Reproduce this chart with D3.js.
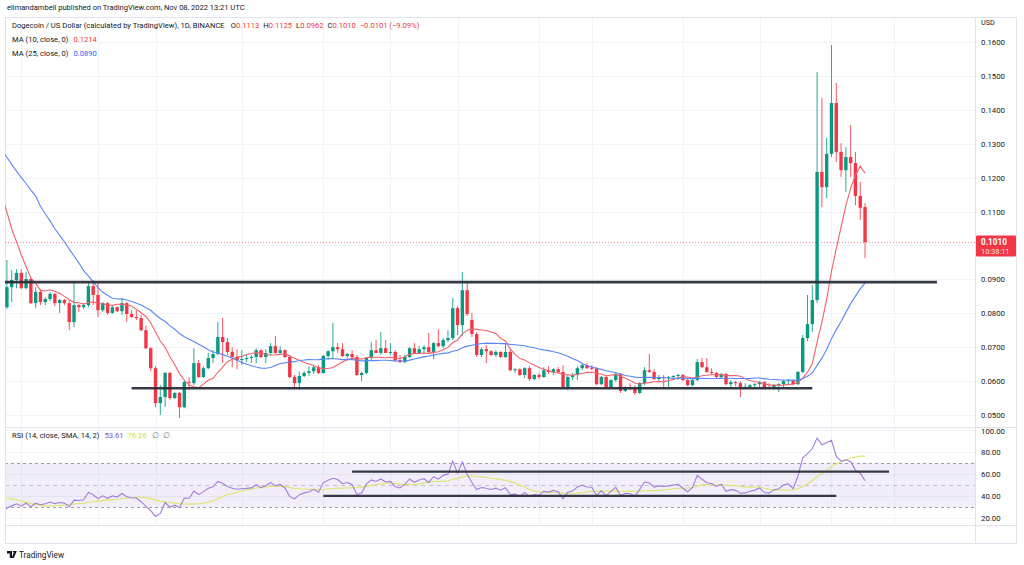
<!DOCTYPE html>
<html><head><meta charset="utf-8">
<script src="https://cdn.jsdelivr.net/npm/d3@7/dist/d3.min.js"></script>
<style>
html,body{margin:0;padding:0;background:#fff;overflow:hidden}
svg{display:block;font-family:Roboto,"Open Sans",Arial,sans-serif}
</style></head><body>
<svg id="chart" width="1024" height="565"></svg>
<script>
// ---------------- DATA ----------------
const firstDay = "2022-05-13", lastDay = "2022-11-08", priorStart = "2022-04-01";
// closes before the visible range (Apr 1 - May 12), feed the MA / RSI
const priorCloses = [.1430,.1420,.1450,.1480,.1520,.1430,.1450,.1420,.1440,.1410,.1320,.1350,.1410,.1390,.1420,.1410,.1370,.1400,.1430,.1410,.1360,.1330,.1320,.1300,.1580,.1400,.1380,.1410,.1330,.1300,
  .1320,.1330,.1320,.1400,.1290,.1270,.1240,.1170,.1020,.1040,.0860,.0820];
const open = [
  .0818,.0877,.0898,.0919,.0874,.0901,.0830,.0863,.0833,.0842,.0857,.0830,.0839,.0830,.0774,.0824,.0818,.0824,.0880,
  .0854,.0809,.0830,.0801,.0818,.0806,.0830,.0798,.0789,.0786,.0750,.0697,.0638,.0535,.0553,.0624,.0550,.0565,.0523,.0597,.0594,.0653,.0612,.0638,.0668,.0680,.0730,.0715,.0686,.0671,
  .0662,.0665,.0668,.0671,.0691,.0671,.0683,.0703,.0683,.0691,.0671,.0612,.0594,.0615,.0624,.0629,.0641,.0624,.0674,.0688,.0700,.0694,.0674,.0680,.0671,.0618,.0624,.0668,.0691,.0683,.0697,
  .0683,.0686,.0662,.0656,.0671,.0697,.0683,.0694,.0700,.0686,.0712,.0703,.0721,.0727,.0815,.0765,.0868,.0780,.0739,.0677,.0694,.0688,.0677,.0686,.0671,.0686,.0632,.0635,.0618,.0638,.0606,
  .0618,.0612,.0632,.0627,.0635,.0627,.0582,.0612,.0618,.0638,.0647,.0638,.0637,.0591,.0612,.0582,.0603,.0621,.0571,.0582,.0579,.0565,.0594,.0632,.0627,.0606,.0612,.0609,.0612,.0615,
  .0618,.0603,.0588,.0603,.0656,.0641,.0627,.0624,.0612,.0621,.0591,.0597,.0594,.0582,.0583,.0588,.0591,.0597,.0582,.0580,.0588,.0591,.0600,.0603,.0591,.0627,.0727,.0768,.0839,.1217,.1172,
  .1270,.1420,.1276,.1222,.1261,.1243,.1146,.1113];
const high = [
  .0957,.0927,.0930,.0930,.0922,.0904,.0877,.0871,.0848,.0863,.0860,.0842,.0842,.0839,.0889,.0827,.0830,.0889,.0898,
  .0889,.0833,.0833,.0821,.0821,.0845,.0833,.0809,.0809,.0795,.0762,.0700,.0644,.0588,.0627,.0627,.0568,.0568,.0603,.0612,.0697,.0662,.0644,.0683,.0691,.0774,.0786,.0727,.0700,.0694,
  .0691,.0677,.0677,.0697,.0694,.0694,.0712,.0733,.0703,.0694,.0674,.0618,.0627,.0629,.0644,.0647,.0647,.0677,.0691,.0771,.0712,.0712,.0683,.0691,.0677,.0627,.0671,.0715,.0721,.0745,.0721,
  .0712,.0691,.0677,.0677,.0700,.0712,.0703,.0706,.0742,.0715,.0753,.0727,.0750,.0845,.0821,.0922,.0889,.0801,.0745,.0700,.0706,.0691,.0691,.0688,.0712,.0694,.0638,.0638,.0641,.0644,.0621,
  .0624,.0641,.0644,.0638,.0641,.0647,.0618,.0624,.0644,.0653,.0653,.0647,.0641,.0615,.0615,.0606,.0627,.0624,.0585,.0594,.0588,.0597,.0641,.0680,.0635,.0618,.0618,.0615,.0618,.0621,
  .0621,.0609,.0606,.0665,.0668,.0668,.0638,.0627,.0624,.0624,.0603,.0600,.0600,.0594,.0591,.0594,.0600,.0600,.0594,.0591,.0594,.0603,.0606,.0606,.0629,.0736,.0854,.0883,.1511,.1435,.1317,
  .1591,.1479,.1302,.1290,.1355,.1276,.1187,.1125];
const low = [
  .0812,.0833,.0874,.0871,.0871,.0827,.0815,.0824,.0824,.0836,.0821,.0801,.0824,.0750,.0759,.0804,.0812,.0818,.0824,
  .0789,.0804,.0795,.0798,.0804,.0795,.0774,.0786,.0780,.0747,.0694,.0629,.0523,.0500,.0523,.0544,.0547,.0491,.0520,.0573,.0588,.0609,.0609,.0635,.0653,.0677,.0653,.0677,.0641,.0635,
  .0647,.0656,.0653,.0653,.0668,.0653,.0677,.0680,.0680,.0668,.0609,.0579,.0576,.0612,.0615,.0621,.0621,.0621,.0662,.0668,.0683,.0671,.0665,.0662,.0615,.0600,.0621,.0662,.0683,.0677,.0683,
  .0677,.0656,.0653,.0653,.0668,.0680,.0680,.0680,.0683,.0665,.0700,.0697,.0715,.0721,.0736,.0733,.0792,.0730,.0671,.0671,.0653,.0674,.0671,.0668,.0668,.0629,.0624,.0615,.0609,.0600,.0603,
  .0606,.0609,.0621,.0618,.0621,.0579,.0573,.0603,.0603,.0632,.0635,.0632,.0588,.0588,.0579,.0579,.0597,.0565,.0568,.0573,.0559,.0562,.0588,.0624,.0603,.0597,.0582,.0582,.0606,.0603,
  .0600,.0585,.0585,.0600,.0638,.0624,.0618,.0609,.0609,.0588,.0579,.0585,.0553,.0579,.0579,.0579,.0582,.0579,.0579,.0576,.0568,.0582,.0591,.0588,.0588,.0624,.0718,.0745,.0830,.1113,.1140,
  .1261,.1246,.1202,.1158,.1202,.1119,.1075,.0962];
const close = [
  .0877,.0898,.0919,.0874,.0901,.0830,.0863,.0833,.0842,.0857,.0830,.0839,.0830,.0774,.0824,.0818,.0824,.0880,.0854,
  .0809,.0830,.0801,.0818,.0806,.0830,.0798,.0789,.0786,.0750,.0697,.0638,.0535,.0553,.0624,.0550,.0565,.0523,.0597,.0594,.0653,.0612,.0638,.0668,.0680,.0730,.0715,.0686,.0671,.0662,
  .0665,.0668,.0671,.0691,.0671,.0683,.0703,.0683,.0691,.0671,.0612,.0594,.0615,.0624,.0629,.0641,.0624,.0674,.0688,.0700,.0694,.0674,.0680,.0671,.0618,.0624,.0668,.0691,.0683,.0697,.0683,
  .0686,.0662,.0656,.0671,.0697,.0683,.0694,.0700,.0686,.0712,.0703,.0721,.0727,.0815,.0765,.0868,.0798,.0739,.0677,.0694,.0688,.0677,.0686,.0671,.0686,.0632,.0635,.0618,.0638,.0606,.0618,
  .0612,.0632,.0627,.0635,.0627,.0582,.0612,.0618,.0638,.0647,.0638,.0637,.0591,.0612,.0582,.0603,.0621,.0571,.0582,.0579,.0565,.0594,.0632,.0627,.0606,.0612,.0609,.0612,.0615,.0618,
  .0603,.0588,.0603,.0656,.0641,.0627,.0624,.0612,.0621,.0591,.0597,.0594,.0582,.0583,.0588,.0591,.0597,.0582,.0580,.0588,.0591,.0600,.0603,.0591,.0627,.0727,.0768,.0839,.1217,.1172,.1270,
  .1420,.1276,.1222,.1261,.1243,.1146,.1111,.1010];

const priceTicks = [0.16,0.15,0.14,0.13,0.12,0.11,0.09,0.08,0.07,0.06,0.05];
const priceGrid = [0.16,0.15,0.14,0.13,0.12,0.11,0.10,0.09,0.08,0.07,0.06,0.05];
const rsiTicks = [100,80,60,40,20];
const rsiBands = [70,50,30];
const timeTicks = ["2022-05-16","2022-06-01","2022-06-13","2022-07-01","2022-07-18","2022-08-01","2022-08-15","2022-09-01","2022-09-12","2022-10-01","2022-10-17","2022-11-01","2022-11-14","2022-12-01"];
const timeTickLabels = ["16","Jun","13","Jul","18","Aug","15","Sep","12","Oct","17","Nov","14","Dec"];
const priceLevels = [{from:"2022-05-01",to:"2022-11-23",value:0.0892},{from:"2022-06-08",to:"2022-10-28",value:0.0579}];
const rsiLevels = [{from:"2022-07-24",to:"2022-11-13",value:62},{from:"2022-07-18",to:"2022-11-02",value:40}];
const headerText = "elimandambell published on TradingView.com, Nov 08, 2022 13:21 UTC";
const symbolText = "Dogecoin / US Dollar (calculated by TradingView), 1D, BINANCE";
const ohlcText = [["O","0.1113"],["H","0.1125"],["L","0.0962"],["C","0.1010"]];
const changeText = "\u22120.0101 (\u22129.09%)";
const maLegend = [{label:"MA (10, close, 0)",value:"0.1214",len:10,color:"#f0616b",textColor:"#F23645"},{label:"MA (25, close, 0)",value:"0.0890",len:25,color:"#5b86f5",textColor:"#2962FF"}];
const rsiLegend = {label:"RSI (14, close, SMA, 14, 2)",rsi:"53.61",ma:"76.26"};
const lastPriceText = "0.1010", countdownText = "10:38:11";

// ---------------- LAYOUT ----------------
const L=5, R=975, TOP=17, PBOT=427, RBOT=525, BOT=543, RIGHT=1016;
const UP="#089981", DOWN="#F23645", TXT="#131722";
const svg=d3.select("#chart");
const parse=d3.utcParse("%Y-%m-%d");
const days=d3.utcDay.range(parse(firstDay), d3.utcDay.offset(parse(lastDay),1));
const allDays=d3.utcDay.range(parse(priorStart), d3.utcDay.offset(parse(lastDay),1));
const allCloses=priorCloses.concat(close);
const x=d3.scaleUtc().domain([parse("2022-06-01"),parse("2022-12-01")]).range([98,975.3]);
const y=d3.scaleLinear().domain([0.05,0.16]).range([415,42]);
const yr=d3.scaleLinear().domain([20,100]).range([518,429.6]);

const defs=svg.append("defs");
defs.append("clipPath").attr("id","cp").append("rect").attr("x",L).attr("y",TOP).attr("width",R-L).attr("height",PBOT-TOP);
defs.append("clipPath").attr("id","cr").append("rect").attr("x",L).attr("y",PBOT).attr("width",R-L).attr("height",RBOT-PBOT);
defs.append("clipPath").attr("id","ct").append("rect").attr("x",L).attr("y",RBOT).attr("width",R-L).attr("height",BOT-RBOT);

// grid
const grid=svg.append("g");
grid.selectAll(".hg").data(priceGrid).join("line").attr("x1",L).attr("x2",R)
  .attr("y1",d=>Math.round(y(d))+.5).attr("y2",d=>Math.round(y(d))+.5).attr("stroke","#f0f3fa");
grid.selectAll(".rg").data(rsiTicks).join("line").attr("x1",L).attr("x2",R)
  .attr("y1",d=>Math.round(yr(d))+.5).attr("y2",d=>Math.round(yr(d))+.5).attr("stroke","#f0f3fa");
grid.selectAll(".vg").data(timeTicks).join("line")
  .attr("x1",d=>Math.round(x(parse(d)))+.5).attr("x2",d=>Math.round(x(parse(d)))+.5)
  .attr("y1",TOP).attr("y2",RBOT).attr("stroke","#f0f3fa");

// RSI band
const rg=svg.append("g").attr("clip-path","url(#cr)");
rg.append("rect").attr("x",L).attr("width",R-L).attr("y",yr(70)).attr("height",yr(30)-yr(70)).attr("fill","rgba(126,87,194,0.1)");
rg.selectAll(".bl").data(rsiBands).join("line").attr("x1",L).attr("x2",R)
  .attr("y1",d=>Math.round(yr(d))+.5).attr("y2",d=>Math.round(yr(d))+.5)
  .attr("stroke","#9598a1").attr("stroke-dasharray",d=>d===50?"4,4":"3,3").attr("stroke-opacity",d=>d===50?0.5:0.9);

// frame & separators
svg.append("rect").attr("x",L+.5).attr("y",TOP+.5).attr("width",RIGHT-L).attr("height",BOT-TOP).attr("fill","none").attr("stroke","#e0e3eb");
svg.append("line").attr("x1",R+.5).attr("x2",R+.5).attr("y1",TOP).attr("y2",BOT).attr("stroke","#e0e3eb");
svg.append("line").attr("x1",L).attr("x2",RIGHT).attr("y1",PBOT+.5).attr("y2",PBOT+.5).attr("stroke","#e0e3eb");
svg.append("line").attr("x1",L).attr("x2",RIGHT).attr("y1",RBOT+.5).attr("y2",RBOT+.5).attr("stroke","#e0e3eb");

// price pane
const pg=svg.append("g").attr("clip-path","url(#cp)");
pg.append("line").attr("x1",L).attr("x2",R).attr("y1",Math.round(y(close[close.length-1]))+.5).attr("y2",Math.round(y(close[close.length-1]))+.5)
  .attr("stroke",DOWN).attr("stroke-opacity",.6).attr("stroke-dasharray","1,2");
const candles=days.map((d,i)=>({d,o:open[i],h:high[i],l:low[i],c:close[i]}));
const cg=pg.append("g");
cg.selectAll(".w").data(candles).join("line")
  .attr("x1",d=>x(d.d)).attr("x2",d=>x(d.d)).attr("y1",d=>y(d.h)).attr("y2",d=>y(d.l))
  .attr("stroke",d=>d.c>=d.o?UP:DOWN).attr("stroke-width",1).attr("stroke-opacity",.85);
cg.selectAll(".b").data(candles).join("rect")
  .attr("x",d=>x(d.d)-1.7).attr("width",3.4)
  .attr("y",d=>y(Math.max(d.o,d.c))).attr("height",d=>Math.max(1,Math.abs(y(d.o)-y(d.c))))
  .attr("fill",d=>d.c>=d.o?UP:DOWN);
function sma(arr,n){return arr.map((v,i)=>{ if(v==null||i<n-1) return null; let s=0; for(let k=i-n+1;k<=i;k++){ if(arr[k]==null) return null; s+=arr[k];} return s/n;});}
const startIdx=allDays.findIndex(d=>+d===+parse("2022-05-11"));
maLegend.forEach(m=>{
  const vals=sma(allCloses,m.len);
  const pts=allDays.map((d,i)=>({d,v:vals[i]})).filter((p,i)=>i>=startIdx&&p.v!=null);
  pg.append("path").datum(pts).attr("fill","none").attr("stroke",m.color).attr("stroke-width",1.1)
    .attr("d",d3.line().x(p=>x(p.d)).y(p=>y(p.v)));
});
pg.selectAll(".lv").data(priceLevels).join("line")
  .attr("x1",d=>x(parse(d.from))).attr("x2",d=>x(parse(d.to))).attr("y1",d=>y(d.value)).attr("y2",d=>y(d.value))
  .attr("stroke","#2a2e39").attr("stroke-width",2.6).attr("stroke-opacity",.95);

// RSI
function rma(src,n){const out=src.map(()=>null); let s=0; for(let i=0;i<src.length;i++){ if(i<n-1){s+=src[i];continue;} if(i===n-1){s+=src[i];out[i]=s/n;} else out[i]=(out[i-1]*(n-1)+src[i])/n;} return out;}
const ups=[],dns=[];
for(let i=1;i<allCloses.length;i++){const ch=allCloses[i]-allCloses[i-1]; ups.push(Math.max(ch,0)); dns.push(Math.max(-ch,0));}
const ru=rma(ups,14), rd=rma(dns,14);
const rsi=[null].concat(ru.map((u,i)=>u==null?null:(rd[i]===0?100:100-100/(1+u/rd[i]))));
const rsiMa=sma(rsi,14);
const rsiPts=allDays.map((d,i)=>({d,v:rsi[i]})).filter((p,i)=>i>=startIdx&&p.v!=null);
const rsiMaPts=allDays.map((d,i)=>({d,v:rsiMa[i]})).filter((p,i)=>i>=startIdx&&p.v!=null);
rg.append("path").datum(rsiMaPts).attr("fill","none").attr("stroke","#dbe66a").attr("stroke-width",1.1)
  .attr("d",d3.line().x(p=>x(p.d)).y(p=>yr(p.v)));
rg.append("path").datum(rsiPts).attr("fill","none").attr("stroke","#a47ddb").attr("stroke-width",1.1)
  .attr("d",d3.line().x(p=>x(p.d)).y(p=>yr(p.v)));
rg.selectAll(".rl").data(rsiLevels).join("line")
  .attr("x1",d=>x(parse(d.from))).attr("x2",d=>x(parse(d.to))).attr("y1",d=>yr(d.value)).attr("y2",d=>yr(d.value))
  .attr("stroke","#2a2e39").attr("stroke-width",2.2).attr("stroke-opacity",.95);

// axes
const FS=7.8;
const pa=svg.append("g").attr("transform",`translate(${R},0)`)
  .call(d3.axisRight(y).tickValues(priceTicks).tickFormat(d3.format(".4f")).tickSize(0).tickPadding(6));
pa.select(".domain").remove();
pa.selectAll("text").attr("font-size",FS).attr("fill",TXT).attr("font-family","Roboto, sans-serif");
const ra=svg.append("g").attr("transform",`translate(${R},0)`)
  .call(d3.axisRight(yr).tickValues(rsiTicks).tickFormat(d3.format(".2f")).tickSize(0).tickPadding(6));
ra.select(".domain").remove();
ra.selectAll("text").attr("font-size",FS).attr("fill",TXT).attr("font-family","Roboto, sans-serif")
  .attr("dy",d=>d===100?"0.55em":"0.32em");
const ta=svg.append("g").attr("transform",`translate(0,${RBOT})`).attr("clip-path","url(#ct)");
ta.append("g").call(d3.axisBottom(x).tickValues(timeTicks.map(parse)).tickFormat((d,i)=>timeTickLabels[i]).tickSize(0).tickPadding(6))
  .call(g=>g.select(".domain").remove())
  .selectAll("text").attr("font-size",FS).attr("fill",TXT).attr("font-family","Roboto, sans-serif");
svg.append("text").attr("x",R+6).attr("y",25).attr("font-size",FS-0.6).attr("fill",TXT).text("USD");

// last price label
const ly=y(close[close.length-1]);
svg.append("rect").attr("x",R+1).attr("y",ly-6.5).attr("width",RIGHT-R-1).attr("height",21).attr("fill",DOWN).attr("rx",1);
svg.append("text").attr("x",R+6).attr("y",ly+3).attr("font-size",FS+0.4).attr("font-weight","bold").attr("fill","#fff").text(lastPriceText);
svg.append("text").attr("x",R+6).attr("y",ly+12).attr("font-size",FS-0.4).attr("fill","#fff").attr("fill-opacity",.9).text(countdownText);

// header & legends
function fit(t,target){const w=t.node().getComputedTextLength(); const fs=parseFloat(t.attr("font-size")); t.attr("font-size",fs*target/w); return fs*target/w;}
const hdr=svg.append("text").attr("x",7).attr("y",10).attr("font-size",8).attr("fill",TXT).text(headerText);
fit(hdr,238);
const lg=svg.append("text").attr("x",12).attr("y",28).attr("font-size",8).attr("fill",TXT);
lg.append("tspan").text(symbolText);
ohlcText.forEach((p,i)=>{lg.append("tspan").attr("dx",i===0?6:4).text(p[0]); lg.append("tspan").attr("fill",DOWN).text(p[1]);});
lg.append("tspan").attr("dx",4).attr("fill",DOWN).text(changeText);
const lfs=fit(lg,386);
maLegend.forEach((m,i)=>{
  const t=svg.append("text").attr("x",12).attr("y",42+i*14).attr("font-size",lfs).attr("fill",TXT);
  t.append("tspan").text(m.label);
  t.append("tspan").attr("dx",5).attr("fill",m.textColor).text(m.value);
});
const rl=svg.append("text").attr("x",12).attr("y",438).attr("font-size",lfs).attr("fill",TXT);
rl.append("tspan").text(rsiLegend.label);
rl.append("tspan").attr("dx",5).attr("fill","#7E57C2").text(rsiLegend.rsi);
rl.append("tspan").attr("dx",4).attr("fill","#c9d84a").text(rsiLegend.ma);
rl.append("tspan").attr("dx",5).attr("fill","#787b86").text("\u2205");
rl.append("tspan").attr("dx",4).attr("fill","#787b86").text("\u2205");

// footer
const ft=svg.append("g").attr("transform","translate(7,551)");
ft.append("path").attr("d","M0,0h5v7h-2.2v-4.6h-2.8z M5.6,0h1.8l-0.9,1.8z M7.4,0h2.4l-3,7h-2.2z").attr("fill",TXT);
svg.append("text").attr("x",19).attr("y",558).attr("font-size",8.2).attr("fill",TXT).text("TradingView");
</script>
</body></html>
